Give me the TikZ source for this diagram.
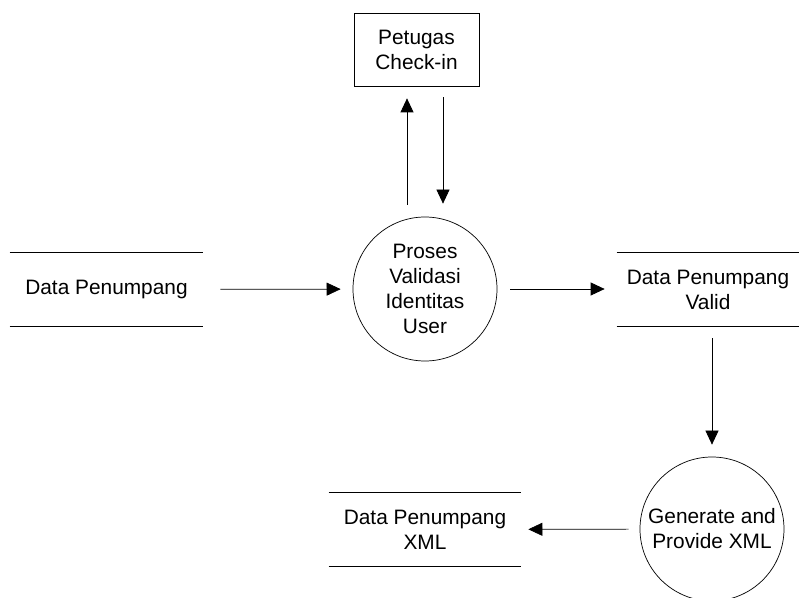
\documentclass[tikz,border=0pt]{standalone}
\usepackage{fontspec}
\setmainfont{Liberation Sans}
\usetikzlibrary{arrows.meta}

\tikzset{
  >={Triangle[length=0.42cm,width=0.39cm]},
  proses/.style={circle,draw,minimum size=144*0.03cm,inner sep=0pt,align=center},
  entitas/.style={draw,minimum width=125*0.03cm,minimum height=73*0.03cm,inner sep=0pt,align=center},
  simpan/.style={minimum width=#1*0.03cm,minimum height=73*0.03cm,inner sep=0pt,align=center},
}

\begin{document}
\begin{tikzpicture}[x=0.03cm,y=-0.03cm,line width=0.6pt,font=\fontsize{17.8}{21.3}\selectfont]
			\useasboundingbox (0,0) rectangle (799,598);

			\node[entitas] (petugas) at (416.5,49.5) {Petugas\\Check-in};
			\node[proses] (validasi) at (425,289) {Proses\\Validasi\\Identitas\\User};
			\node[proses] (generate) at (712,529) {Generate and\\Provide XML};

			\node[simpan=193] (dp) at (106.5,289.5) {Data Penumpang};
			\node[simpan=182] (dpvalid) at (708,289.5) {Data Penumpang\\Valid};
			\node[simpan=192] (dpxml) at (425,529.5) {Data Penumpang\\XML};

			% garis data store
			\foreach \s in {dp, dpvalid, dpxml}
			{
			\draw (\s.north west) -- (\s.north east);
			\draw (\s.south west) -- (\s.south east);
			}

			\draw[->] ([shift={(-18,-12)}]validasi.north) -- ([shift={(-9.5,12)}]petugas.south);
			\draw[->] ([shift={(26.5,11)}]petugas.south) -- ([shift={(18,-13)}]validasi.north);

			\draw[->,shorten <=17*0.03cm,shorten >=12*0.03cm] (dp) -- (validasi);
			\draw[->,shorten <=13*0.03cm,shorten >=12*0.03cm] (validasi) -- (dpvalid.west |- validasi);
			\draw[->,shorten <=12*0.03cm,shorten >=12*0.03cm] ([xshift=4*0.03cm]dpvalid.south) -- (generate);
			\draw[->,shorten <=11*0.03cm,shorten >=7*0.03cm] (generate) -- (dpxml);
		\end{tikzpicture}
\end{document}
